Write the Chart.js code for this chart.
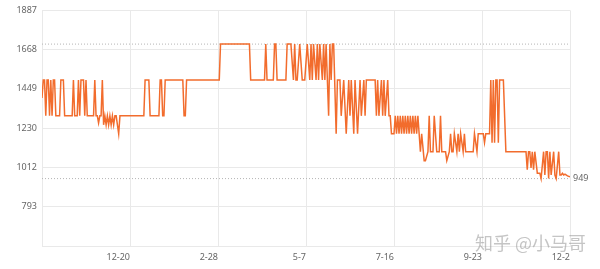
<!DOCTYPE html>
<html>
<head>
<meta charset="utf-8">
<script src="https://cdn.jsdelivr.net/npm/chart.js@4.4.0/dist/chart.umd.min.js"></script>
<style>
    html, body { margin: 0; padding: 0; background: #fff; }
    #wrap { position: relative; width: 600px; height: 269px; }
    #watermark {
        position: absolute; left: 475px; top: 229px;
        font: 18px "Noto Sans CJK SC", sans-serif;
        color: rgba(150, 150, 150, 0.55);
        white-space: nowrap;
    }
</style>
</head>
<body>
<div id="wrap">
    <canvas id="priceChart" width="600" height="269"></canvas>
    <div id="watermark">知乎 @小马哥</div>
</div>
<script>
// price history: day index (from first record) and price at that day
const days = [
    0, 1, 2, 3, 4, 5, 6, 7, 8, 9, 10, 11, 14, 15, 17, 18, 24, 25, 26, 28, 29, 30, 31, 33, 34, 35, 36,
    41, 42, 43, 44, 45, 46, 47, 48, 49, 50, 51, 52, 53, 54, 55, 56, 57, 58, 59, 60, 61, 62,
    81, 82, 85, 86, 93, 94, 95, 96, 97, 98, 112, 113, 114, 115, 141, 142, 165, 166,
    177, 178, 179, 184, 185, 186, 187, 194, 195, 198, 200, 201, 202, 203, 205, 207, 209,
    211, 213, 214, 215, 216, 218, 219, 220, 221, 223, 224, 225, 226, 228, 229, 230, 231, 232,
    234, 235, 237, 238, 240, 242, 244, 245, 246, 248, 249, 251, 253, 254, 256, 257, 258,
    265, 266, 267, 268, 270, 271, 272, 273, 275, 276, 277, 278, 280,
    281, 282, 283, 284, 285, 286, 287, 288, 289, 290, 291, 292, 293, 294, 295, 296, 297, 298, 299, 300,
    301, 302, 304, 305, 307, 308, 309, 311, 312, 314, 316, 317, 318, 321, 322, 324, 325, 326, 327, 328,
    330, 331, 332, 333, 335, 336, 337, 343, 344, 346, 347, 351, 352, 353, 356, 357, 358, 359, 360, 361,
    362, 363, 364, 367, 369, 385, 386, 387, 388, 389, 390, 391, 392, 394, 396, 397, 399, 400, 401, 402,
    403, 404, 405, 407, 408, 409, 411, 412, 413, 414, 415, 416, 418, 420
];
const prices = [
    1399, 1499, 1499, 1299, 1499, 1499, 1299, 1499, 1299, 1499, 1499, 1299, 1299, 1499, 1499, 1299, 1299, 1499, 1299, 1299, 1499, 1299, 1499, 1499, 1299, 1499, 1299,
    1299, 1499, 1299, 1299, 1259, 1299, 1299, 1499, 1249, 1299, 1249, 1299, 1249, 1299, 1249, 1299, 1249, 1299, 1299, 1249, 1199, 1299,
    1299, 1499, 1499, 1299, 1299, 1499, 1499, 1299, 1299, 1499, 1499, 1299, 1299, 1499, 1499, 1699, 1699, 1499,
    1499, 1699, 1499, 1499, 1699, 1699, 1499, 1499, 1699, 1699, 1499, 1699, 1499, 1499, 1699, 1499, 1499,
    1699, 1499, 1699, 1499, 1699, 1499, 1699, 1499, 1699, 1499, 1699, 1499, 1699, 1299, 1699, 1499, 1699, 1699,
    1199, 1499, 1499, 1299, 1499, 1199, 1499, 1299, 1499, 1199, 1499, 1199, 1499, 1299, 1499, 1299, 1499,
    1499, 1299, 1499, 1299, 1499, 1299, 1499, 1299, 1499, 1299, 1299, 1199, 1199,
    1299, 1199, 1299, 1199, 1299, 1199, 1299, 1199, 1299, 1199, 1299, 1199, 1299, 1199, 1299, 1199, 1299, 1199, 1299, 1199,
    1099, 1199, 1049, 1049, 1099, 1299, 1099, 1099, 1299, 1099, 1099, 1299, 1099, 1099, 1049, 1099, 1199, 1099, 1099, 1199,
    1099, 1199, 1099, 1199, 1099, 1199, 1099, 1099, 1199, 1099, 1199, 1199, 1149, 1199, 1199, 1499, 1149, 1499, 1149, 1499,
    1499, 1149, 1499, 1499, 1099, 1099, 999, 1099, 1099, 1009, 1099, 999, 1099, 979, 979, 949, 1099, 969, 1099, 1099,
    949, 1099, 969, 1099, 969, 949, 1099, 969, 969, 979, 969, 974, 964, 959
];

const xTickDays = [0, 70, 140, 210, 280, 350, 420];
const xTickLabels = ['', '12-20', '2-28', '5-7', '7-16', '9-23', '12-2'];
const yTicks = [573, 793, 1012, 1230, 1449, 1668, 1887];
const maxPrice = 1699;
const minPrice = 949;

const lineColor = 'rgb(242, 108, 45)';
const gridColor = '#e9e9e9';
const tickColor = '#666';
const tickFont = { family: '"Noto Sans", sans-serif', size: 9 };

// min price label at the right end of the dotted line
const minLabelPlugin = {
    id: 'minLabel',
    afterDraw(chart) {
        const ctx = chart.ctx;
        const y = chart.scales.y.getPixelForValue(minPrice);
        ctx.save();
        ctx.font = '9px "Noto Sans", sans-serif';
        ctx.fillStyle = tickColor;
        ctx.textAlign = 'left';
        ctx.textBaseline = 'middle';
        ctx.fillText(String(minPrice), chart.chartArea.right + 3, y);
        ctx.restore();
    }
};

const pricePoints = days.map((d, i) => ({ x: d, y: prices[i] }));
const lastDay = xTickDays[xTickDays.length - 1];

const ctx = document.getElementById('priceChart').getContext('2d');
const priceChart = new Chart(ctx, {
    type: 'line',
    data: {
        datasets: [
            {
                data: pricePoints,
                borderColor: lineColor,
                borderWidth: 1.5,
                pointRadius: 0,
                tension: 0,
                fill: false,
                order: 1
            },
            {
                data: [{ x: 0, y: maxPrice }, { x: lastDay, y: maxPrice }],
                borderColor: '#b5b5b5',
                borderWidth: 1,
                borderDash: [1, 2],
                pointRadius: 0,
                order: 2
            },
            {
                data: [{ x: 0, y: minPrice }, { x: lastDay, y: minPrice }],
                borderColor: '#b5b5b5',
                borderWidth: 1,
                borderDash: [1, 2],
                pointRadius: 0,
                order: 2
            }
        ]
    },
    options: {
        responsive: false,
        animation: false,
        layout: { padding: { top: 7, right: 30, left: 0, bottom: 0 } },
        plugins: {
            legend: { display: false },
            tooltip: { enabled: false }
        },
        scales: {
            x: {
                type: 'linear',
                min: 0,
                max: lastDay,
                afterBuildTicks: scale => { scale.ticks = xTickDays.map(v => ({ value: v })); },
                afterFit: scale => { scale.height = 23; },
                ticks: {
                    autoSkip: false,
                    maxRotation: 0,
                    align: 'end',
                    padding: 6,
                    color: tickColor,
                    font: tickFont,
                    callback: v => xTickLabels[xTickDays.indexOf(v)]
                },
                grid: { color: gridColor, drawTicks: false },
                border: { color: gridColor }
            },
            y: {
                min: yTicks[0],
                max: yTicks[yTicks.length - 1],
                afterBuildTicks: scale => { scale.ticks = yTicks.map(v => ({ value: v })); },
                afterFit: scale => { scale.width = 42; },
                ticks: {
                    padding: 5,
                    color: tickColor,
                    font: tickFont,
                    callback: v => (v === yTicks[0] ? '' : String(v))
                },
                grid: { color: gridColor, drawTicks: false },
                border: { color: gridColor }
            }
        }
    },
    plugins: [minLabelPlugin]
});
</script>
</body>
</html>
